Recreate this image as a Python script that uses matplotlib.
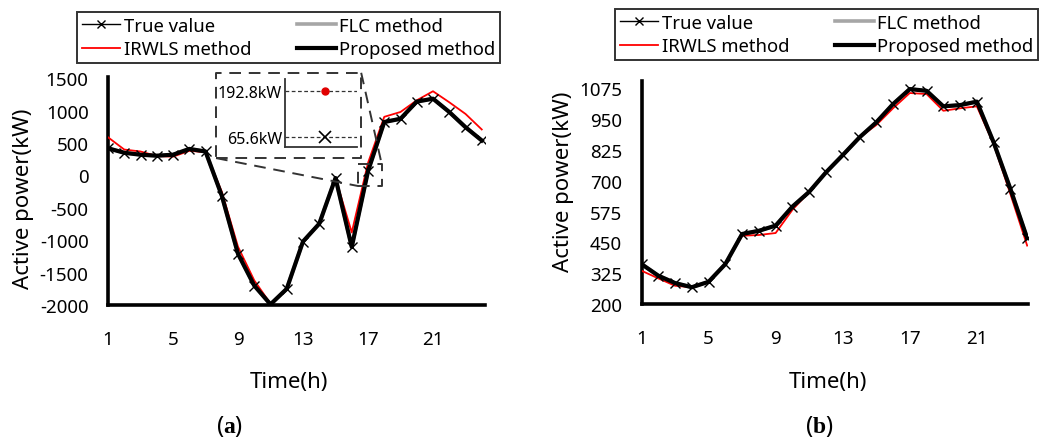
import numpy as np
import matplotlib
matplotlib.use("Agg")
from matplotlib import pyplot as plt
from matplotlib.lines import Line2D

plt.rcParams['font.family'] = ['Noto Sans', 'DejaVu Sans']
plt.rcParams['axes.unicode_minus'] = False
plt.rcParams['mathtext.fontset'] = 'custom'
plt.rcParams['mathtext.rm'] = 'Liberation Serif'
plt.rcParams['mathtext.bf'] = 'Liberation Serif:bold'

hours = list(range(1, 25))

# (a) active power, kW
true_a = [420, 350, 320, 305, 320, 410, 370, -310, -1210, -1700, -1990, -1750,
          -1020, -745, -40, -1105, 65.6, 825, 875, 1140, 1185, 980, 745, 540]
irwls_a = [590, 400, 370, 300, 290, 380, 360, -250, -1100, -1620, -1980, -1750,
           -1020, -745, -40, -880, 192.8, 905, 980, 1160, 1300, 1130, 950, 710]
flc_a = [420, 350, 320, 305, 320, 405, 370, -310, -1210, -1700, -1990, -1750,
         -1020, -745, -40, -1100, 70, 825, 875, 1140, 1185, 980, 745, 540]
prop_a = [420, 350, 320, 305, 320, 410, 370, -310, -1210, -1700, -1990, -1750,
          -1020, -745, -40, -1105, 66, 825, 875, 1140, 1185, 980, 745, 540]

# (b) active power, kW
true_b = [362, 315, 285, 268, 290, 362, 484, 497, 518, 595, 655, 734,
          804, 876, 937, 1011, 1072, 1065, 1002, 1007, 1021, 856, 667, 467]
irwls_b = [335, 304, 274, 268, 290, 362, 477, 480, 488, 582, 655, 734,
           804, 876, 926, 994, 1056, 1052, 984, 994, 1002, 849, 646, 437]
flc_b = [362, 315, 285, 268, 290, 362, 484, 497, 518, 595, 655, 734,
         804, 876, 937, 1011, 1072, 1065, 1002, 1007, 1021, 856, 667, 467]
prop_b = [362, 315, 285, 268, 290, 362, 484, 497, 518, 595, 655, 734,
          804, 876, 937, 1011, 1072, 1065, 1002, 1007, 1021, 856, 667, 467]

xticks = [1, 5, 9, 13, 17, 21]
yticks_a = [1500, 1000, 500, 0, -500, -1000, -1500, -2000]
yticks_b = [1075, 950, 825, 700, 575, 450, 325, 200]

zoom_hour = 17
zoom_vals = [192.8, 65.6]

W, H = 1049, 439
fig = plt.figure(figsize=(W / 100, H / 100), dpi=100)


def px(x0, y0, x1, y1):
    # pixel box (left, top, right, bottom) -> figure fraction rect
    return [x0 / W, 1 - y1 / H, (x1 - x0) / W, (y1 - y0) / H]


def draw(ax, t, irw, flc, prop):
    ax.plot(hours, flc, color='#a6a6a6', lw=2.6, zorder=2)
    ax.plot(hours, irw, color='#ff0000', lw=1.3, zorder=3)
    ax.plot(hours, prop, color='black', lw=3.0, zorder=4)
    ax.plot(hours, t, color='black', lw=1.0, marker='x', ms=7, mew=1.0, zorder=5)
    for s in ['top', 'right']:
        ax.spines[s].set_visible(False)
    for s in ['left', 'bottom']:
        ax.spines[s].set_linewidth(2.6)
    ax.tick_params(length=0, labelsize=13.5)
    ax.tick_params(axis='x', pad=18)
    ax.tick_params(axis='y', pad=14)
    ax.set_xticks(xticks)


def legend(anchor):
    handles = [
        Line2D([], [], color='black', lw=1.0, marker='x', ms=6, mew=1.0),
        Line2D([], [], color='#ff0000', lw=1.3),
        Line2D([], [], color='#a6a6a6', lw=2.6),
        Line2D([], [], color='black', lw=3.0),
    ]
    labels = ['True value', 'IRWLS method', 'FLC method', 'Proposed method']
    leg = fig.legend(handles, labels, ncol=2, loc='upper left',
                     bbox_to_anchor=anchor, bbox_transform=fig.transFigure,
                     fontsize=13.3, frameon=True, fancybox=False,
                     edgecolor='black', handlelength=2.1, handletextpad=0.2,
                     columnspacing=2.45, labelspacing=0.3, borderpad=0.25,
                     borderaxespad=0)
    leg.get_frame().set_linewidth(1.4)


# ---- (a)
ax1 = fig.add_axes(px(108, 78, 485, 306))
draw(ax1, true_a, irwls_a, flc_a, prop_a)
ax1.set_xlim(1, 24.2)
ax1.set_ylim(-2000, 1520)
ax1.set_yticks(yticks_a)
ax1.set_ylabel('Active power(kW)', fontsize=16)
ax1.yaxis.set_label_coords(-0.195, 0.47)
ax1.set_xlabel('Time(h)', fontsize=16)
ax1.xaxis.set_label_coords(0.48, -0.29)
legend((77 / W, 1 - 13 / H))

# zoom boxes
dash = dict(color='#333333', lw=1.4, ls=(0, (6, 4)), clip_on=False, zorder=6)
bx0, bx1, by0, by1 = 7.65, 16.58, 268, 1585
sx0, sx1, sy0, sy1 = 16.41, 17.84, -164, 180
ax1.plot([bx0, bx1, bx1, bx0, bx0], [by0, by0, by1, by1, by0], **dash)
ax1.plot([sx0, sx1, sx1, sx0, sx0], [sy0, sy0, sy1, sy1, sy0], **dash)
ax1.plot([bx0, sx0], [by0, sy0], **dash)
ax1.plot([bx1, sx1], [by1, sy1], **dash)

ins = fig.add_axes(px(285, 80, 357, 148.3))
ins.set_xlim(zoom_hour - 0.56 * 0.9, zoom_hour + 0.44 * 0.9)
ins.set_ylim(38.3, 225)
for v in zoom_vals:
    ins.axhline(v, color='#333333', lw=0.9, ls=(0, (3, 2)))
ins.plot([zoom_hour], [zoom_vals[0]], 'o', color='#e00000', ms=5)
ins.plot([zoom_hour], [zoom_vals[1]], 'x', color='black', ms=8, mew=1.2)
ins.set_yticks(zoom_vals)
ins.set_yticklabels(['%.1fkW' % v for v in zoom_vals])
ins.set_xticks([])
ins.tick_params(length=0, labelsize=11.5, pad=2)
for s in ['top', 'right']:
    ins.spines[s].set_visible(False)
for s in ['left', 'bottom']:
    ins.spines[s].set_linewidth(1.3)
    ins.spines[s].set_color('#333333')
ins.patch.set_alpha(0)

# ---- (b)
ax2 = fig.add_axes(px(641.5, 81.7, 1028, 305))
draw(ax2, true_b, irwls_b, flc_b, prop_b)
ax2.set_xlim(1, 24.05)
ax2.set_ylim(200, 1106)
ax2.set_yticks(yticks_b)
ax2.set_ylabel('Active power(kW)', fontsize=16)
ax2.yaxis.set_label_coords(-0.175, 0.55)
ax2.set_xlabel('Time(h)', fontsize=16)
ax2.xaxis.set_label_coords(0.4825, -0.3)
legend((615 / W, 1 - 10 / H))

fig.text(230 / W, 1 - 426.7 / H, r'($\mathbf{a}$)', fontsize=17, ha='center', va='center')
fig.text(819 / W, 1 - 426.7 / H, r'($\mathbf{b}$)', fontsize=17, ha='center', va='center')

fig.savefig('out.png', dpi=100)
